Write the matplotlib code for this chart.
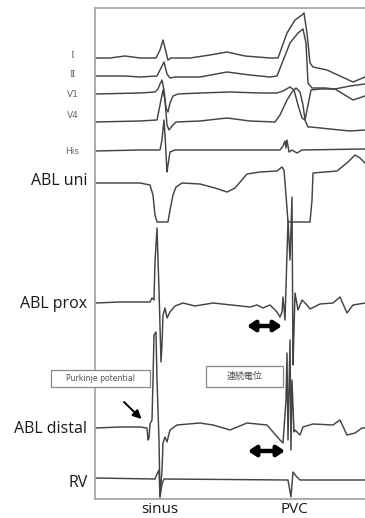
import matplotlib.pyplot as plt
from matplotlib.patches import Rectangle

plt.rcParams['figure.dpi'] = 100

# time in ms, amplitude in arbitrary units (positive = up), per channel
t_I = [0, 60, 120, 180, 244, 260, 272, 284, 292, 304, 380, 460, 528, 600, 700, 732, 768, 800, 828, 836, 848, 860, 872, 928, 980, 1032, 1080]
a_I = [0, 0, 2, 0, 0, 8, 18, 6, -2, 0, 0, 3, 6, 2, 0, 0, 25, 38, 43, 45, 25, -5, -9, -12, -18, -24, -19]

t_II = [0, 120, 180, 248, 260, 276, 288, 300, 320, 420, 528, 620, 700, 728, 780, 812, 832, 844, 852, 868, 920, 960, 1032, 1080]
a_II = [0, 0, -1, 0, 6, 14, 2, -2, -1, -1, 4, 1, -1, 0, 33, 43, 47, 33, -7, -12, -12, -13, -24, -20]

t_V1 = [0, 180, 240, 252, 260, 268, 276, 284, 292, 300, 312, 332, 420, 540, 660, 728, 752, 780, 796, 812, 828, 840, 852, 864, 900, 960, 1020, 1080]
a_V1 = [-1, 0, 1, 4, 9, 13, 3, -15, -19, -10, -3, -1, 0, 1, 0, 0, 2, 6, 3, -12, -25, -27, -12, 3, 4, 4, 7, 9]

t_V4 = [0, 180, 248, 260, 272, 280, 288, 296, 308, 324, 420, 528, 620, 720, 740, 768, 788, 804, 820, 832, 840, 852, 864, 940, 1020, 1080]
a_V4 = [-1, 0, 1, 16, 31, 21, -4, -9, -5, -1, 0, 3, 0, -1, 6, 21, 29, 33, 29, 16, 1, -6, -6, -8, -10, -9]

t_His = [0, 180, 260, 268, 276, 280, 288, 292, 300, 320, 740, 752, 760, 764, 768, 776, 788, 808, 828, 1080]
a_His = [-1, 0, 0, 10, 30, 15, -22, -15, -2, 0, 0, 4, 9, 2, 10, -2, 0, -3, 0, 1]

t_uni = [0, 180, 220, 232, 240, 248, 292, 300, 312, 324, 348, 420, 480, 528, 560, 608, 660, 728, 748, 756, 764, 772, 860, 868, 872, 968, 1012, 1040, 1060, 1080]
a_uni = [0, 0, -2, -12, -32, -39, -39, -27, -12, -4, 0, -1, -5, -9, -5, 9, 11, 12, 16, 13, -12, -39, -39, -17, 10, 12, 21, 28, 25, 20]

t_prox = [0, 100, 220, 228, 236, 240, 248, 256, 264, 268, 272, 280, 288, 300, 320, 352, 400, 472, 620, 648, 672, 700, 728, 740, 748, 752, 760, 772, 780, 788, 792, 796, 800, 812, 828, 848, 860, 900, 952, 980, 1008, 1032, 1080]
a_prox = [0, 1, 1, 5, 3, 41, 75, 13, -59, -42, -12, -5, -15, -9, -3, 0, -3, 0, -4, -2, -5, -2, -9, -14, -9, 6, -17, 83, 43, 106, -62, -27, 10, -7, 3, -2, -6, -1, 0, 6, -10, -2, 0]

t_dist = [0, 100, 180, 208, 212, 216, 220, 228, 232, 236, 244, 248, 256, 260, 268, 272, 280, 288, 300, 328, 420, 472, 540, 608, 688, 740, 752, 764, 768, 772, 780, 784, 788, 796, 800, 820, 832, 872, 952, 980, 1008, 1040, 1068, 1080]
a_dist = [-1, 0, 0, -1, -13, -11, 3, 7, 47, 92, 95, 47, -13, -70, -43, -16, -10, -15, -3, 2, 4, 2, -3, 4, 2, -13, -16, 27, 74, -13, 87, -23, 47, -5, -3, -8, 0, 3, 2, 7, -8, -6, -1, -1]

t_RV = [0, 240, 248, 256, 260, 268, 276, 772, 784, 792, 804, 820, 1080]
a_RV = [1, 0, 5, 9, -18, -5, 0, -1, -18, 7, 3, -1, -1]

channel_names = ['I', 'Ⅱ', 'V1', 'V4', 'His', 'ABL uni', 'ABL prox', 'ABL distal', 'RV']
channel_times = [t_I, t_II, t_V1, t_V4, t_His, t_uni, t_prox, t_dist, t_RV]
channel_amps = [a_I, a_II, a_V1, a_V4, a_His, a_uni, a_prox, a_dist, a_RV]
channel_base = [441, 423, 406, 378, 349, 316, 196, 72, 20]   # vertical placement of each trace

fig = plt.figure(figsize=(3.65, 5.18))
ax = fig.add_axes([95 / 365, 19 / 518, 270 / 365, 491 / 518])

for t, a, base in zip(channel_times, channel_amps, channel_base):
    ax.plot(t, [base + v for v in a], color='#444444', lw=1.05, solid_joinstyle='round')

ax.set_xlim(0, 1080)
ax.set_ylim(0, 491)
ax.set_xticks([])
ax.set_yticks([])
for side in ['top', 'left', 'bottom']:
    ax.spines[side].set_color('#a8a8a8')
    ax.spines[side].set_linewidth(1.3)
ax.spines['right'].set_visible(False)

# small ECG labels
small_y = [444, 425, 405, 384, 348]
for name, y in zip(channel_names[:5], small_y):
    fam = 'DejaVu Serif' if name in ('I', 'Ⅱ') else 'DejaVu Sans'
    ax.text(-90, y, name, ha='center', va='center', fontsize=6.5,
            color='#666666', family=fam, clip_on=False)

# big intracardiac labels
big_y = [314, 191, 66, 12]
for name, y in zip(channel_names[5:], big_y):
    ax.text(-30, y, name, ha='right', va='baseline', fontsize=11.5,
            family='Open Sans', color='#1a1a1a', clip_on=False)

ax.text(260, -14, 'sinus', ha='center', va='baseline', fontsize=11,
        family='Open Sans', color='#1a1a1a', clip_on=False)
ax.text(796, -14, 'PVC', ha='center', va='baseline', fontsize=11,
        family='Open Sans', color='#1a1a1a', clip_on=False)

# annotation boxes
ax.add_patch(Rectangle((-176, 112), 396, 17, facecolor='white', edgecolor='#888888',
                       lw=0.9, clip_on=False, zorder=5))
ax.text(22, 120.5, 'Purkinje potential', ha='center', va='center', fontsize=5.6,
        color='#555555', family='DejaVu Sans', zorder=6, clip_on=False)

ax.add_patch(Rectangle((444, 112), 308, 21, facecolor='white', edgecolor='#888888',
                       lw=0.9, zorder=5))
ax.text(598, 122.5, '連続電位', ha='center', va='center', fontsize=6.5,
        color='#555555', family=['Noto Sans CJK JP', 'DejaVu Sans'], zorder=6)

ax.annotate('', xy=(186, 80), xytext=(116, 97),
            arrowprops=dict(arrowstyle='-|>,head_length=0.5,head_width=0.25',
                            color='black', lw=1.4, shrinkA=0, shrinkB=0),
            annotation_clip=False)

for x0, x1, y in [(608, 748, 173), (612, 760, 48)]:
    ax.annotate('', xy=(x1, y), xytext=(x0, y),
                arrowprops=dict(arrowstyle='<|-|>,head_length=0.45,head_width=0.3',
                                color='black', lw=3.2, shrinkA=0, shrinkB=0))

fig.savefig('out.png', dpi=100)
